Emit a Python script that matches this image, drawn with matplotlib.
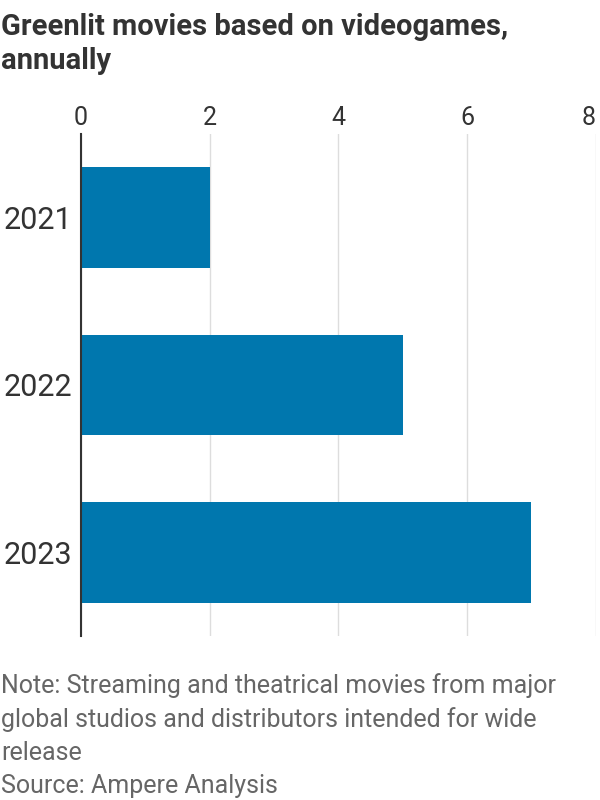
import matplotlib.pyplot as plt

years = ['2021', '2022', '2023']
movies = [2, 5, 7]
ticks = [0, 2, 4, 6, 8]

title = 'Greenlit movies based on videogames,\nannually'
note = ('Note: Streaming and theatrical movies from major\n'
        'global studios and distributors intended for wide\n'
        'release\n'
        'Source: Ampere Analysis')

plt.rcParams['font.family'] = ['Roboto', 'DejaVu Sans']

fig = plt.figure(figsize=(6, 8), dpi=100)
ax = fig.add_axes([0.135, 0.205, 0.858, 0.6275])

y = list(range(len(years)))
ax.barh(y, movies, height=0.6, color='#0077AE', zorder=2)
ax.set_ylim(len(years) - 0.5, -0.5)
ax.set_xlim(0, 8)
ax.set_xticks(ticks)
ax.set_xticklabels([str(t) for t in ticks])
ax.set_yticks(y)
ax.set_yticklabels(years)

ax.xaxis.tick_top()
ax.tick_params(axis='x', length=0, labelsize=18, colors='#333333', pad=3)
ax.tick_params(axis='y', length=0, labelsize=22, colors='#333333', pad=6)
ax.grid(axis='x', color='#dddddd', linewidth=1, zorder=0)
for side in ['top', 'right', 'bottom']:
    ax.spines[side].set_visible(False)
ax.spines['left'].set_color('#333333')
ax.spines['left'].set_linewidth(1.5)
ax.spines['left'].set_zorder(3)

# keep the last tick label ("8") inside the figure
ax.xaxis.get_major_ticks()[-1].label2.set_horizontalalignment('right')

fig.text(0.002, 0.984, title, ha='left', va='top', fontsize=21,
         fontweight='bold', color='#333333', linespacing=1.26)
fig.text(0.002, 0.159, note, ha='left', va='top', fontsize=18,
         color='#666666', linespacing=1.48)

fig.savefig('out.png', dpi=100)
